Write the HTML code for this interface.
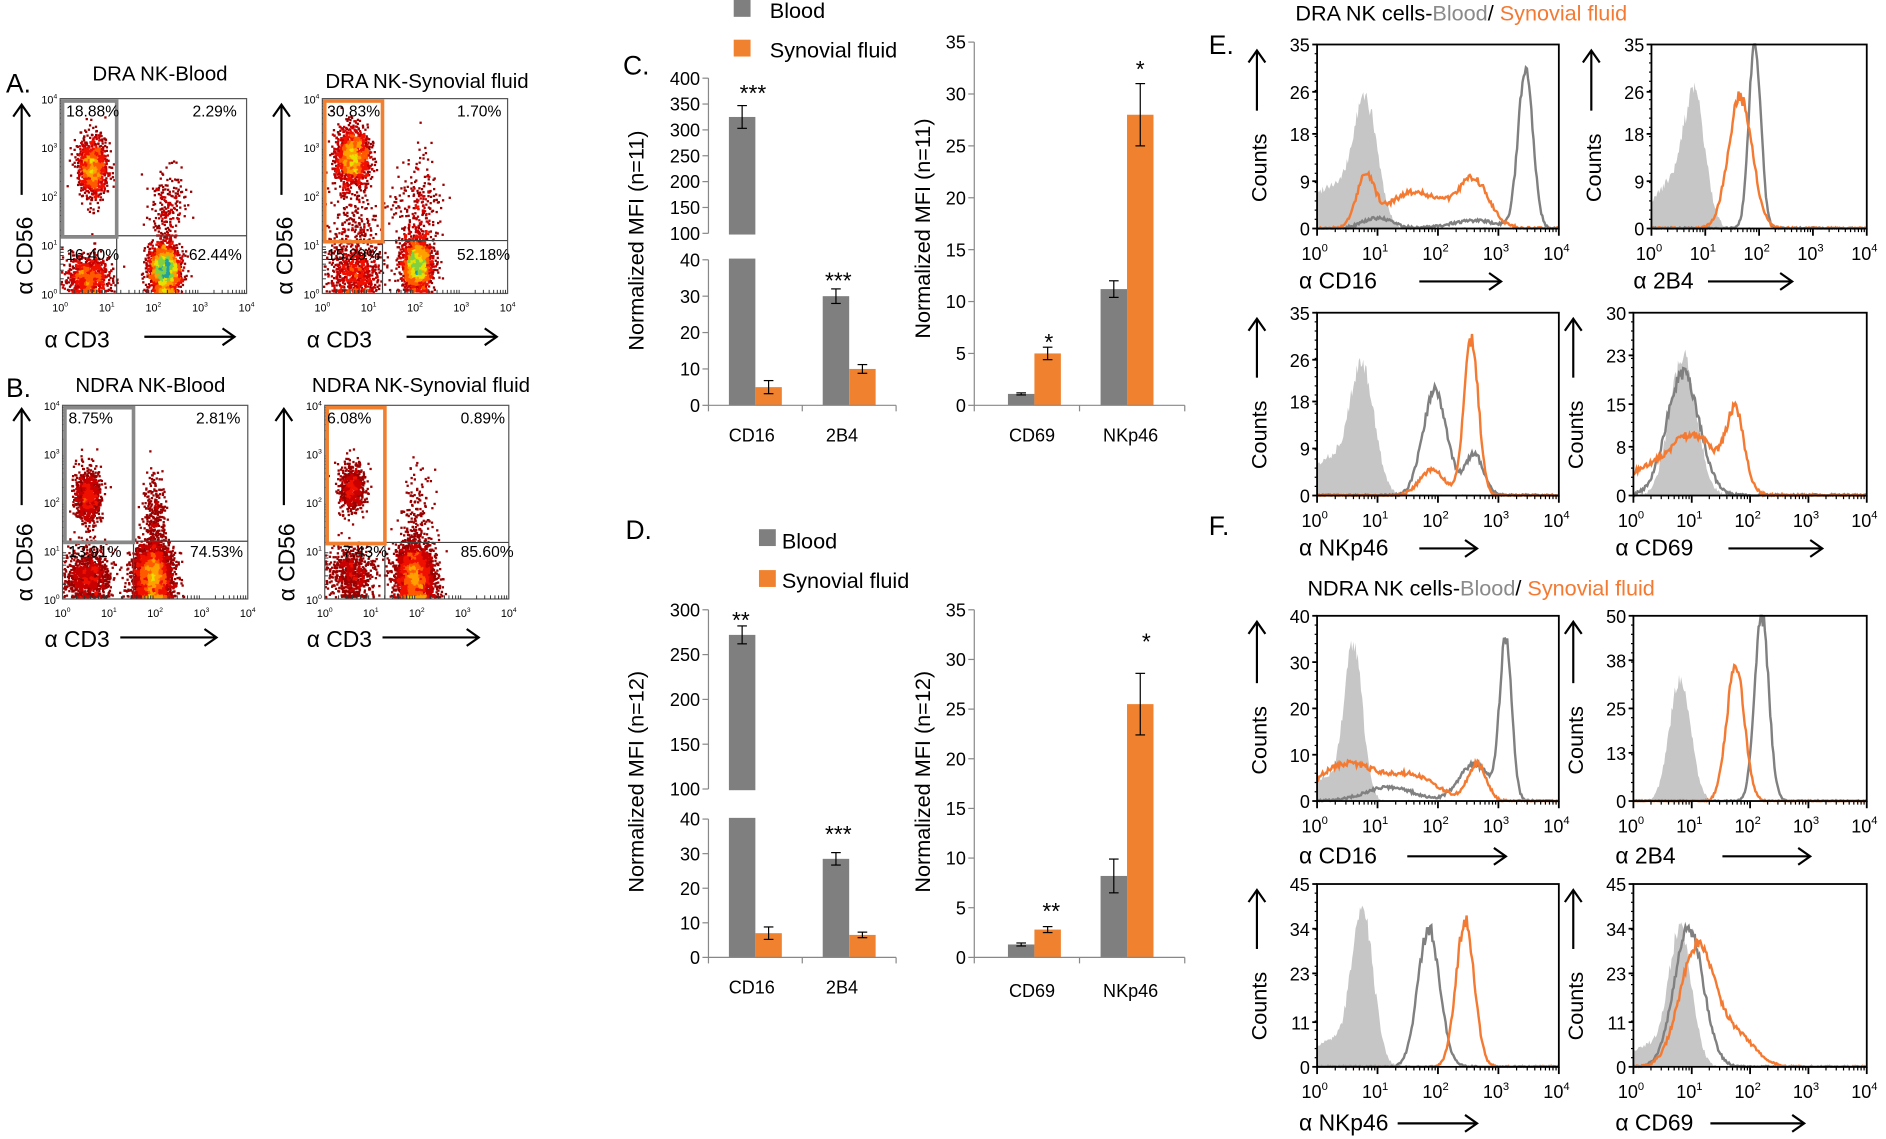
<!DOCTYPE html>
<html><head><meta charset="utf-8"><style>
html,body{margin:0;padding:0;background:#fff;}
svg{display:block;}
text{font-family:"Liberation Sans",Arial,sans-serif;}
</style></head><body>
<svg id="s" xmlns="http://www.w3.org/2000/svg" width="1886" height="1139" viewBox="0 0 1568 947" preserveAspectRatio="none"></svg>
<script>
var S=document.getElementById('s'),NS='http://www.w3.org/2000/svg';
function el(t,a,p){var e=document.createElementNS(NS,t);for(var k in a)e.setAttribute(k,a[k]);(p||S).appendChild(e);return e;}
function T(x,y,s,sz,o){o=o||{};var a={x:x,y:y,'font-size':sz,fill:o.fill||'#000','text-anchor':o.anc||'start'};if(o.rot)a.transform='rotate(-90 '+x+' '+y+')';if(o.w)a['font-weight']=o.w;var e=el('text',a);e.textContent=s;return e;}
function P(x,y,ex,sz,anc){var e=el('text',{x:x,y:y,'font-size':sz,'text-anchor':anc||'middle'});var t1=el('tspan',{},e);t1.textContent='10';var t2=el('tspan',{dy:-sz*0.45,'font-size':sz*0.62},e);t2.textContent=ex;return e;}
function L(a,b,c,d,col,w){return el('line',{x1:a,y1:b,x2:c,y2:d,stroke:col||'#000','stroke-width':w||1});}
function R(x,y,w,h,f,s,sw){return el('rect',{x:x,y:y,width:w,height:h,fill:f||'none',stroke:s||'none','stroke-width':sw||0});}
function AR(x1,x2,y){L(x1,y,x2,y,'#000',1.8);el('path',{d:'M'+(x2-10)+' '+(y-7)+'L'+x2+' '+y+'L'+(x2-10)+' '+(y+7),fill:'none',stroke:'#000','stroke-width':1.8});}
function AU(x,y1,y2){L(x,y1,x,y2,'#000',1.8);el('path',{d:'M'+(x-7)+' '+(y2+10)+'L'+x+' '+y2+'L'+(x+7)+' '+(y2+10),fill:'none',stroke:'#000','stroke-width':1.8});}
var seed=12345;function rnd(){seed|=0;seed=seed+0x6D2B79F5|0;var t=Math.imul(seed^seed>>>15,1|seed);t=t+Math.imul(t^t>>>7,61|t)^t;return((t^t>>>14)>>>0)/4294967296;}
function gn(){var u=rnd()||1e-9,v=rnd();return Math.sqrt(-2*Math.log(u))*Math.cos(2*Math.PI*v);}

function scatter(bx,by,bw,bh,cl,fac){
  var pts=[];cl.forEach(function(c){for(var i=0;i<c[5];i++){var x=c[0]+gn()*c[2],y=c[1]+gn()*c[3];if(y<0.03)y=0.03+rnd()*0.05;if(x<0.02)x=0.02+rnd()*0.05;if(x>3.98||y>3.98)continue;pts.push([bx+x/4*bw,by+bh-y/4*bh]);}});
  var g={},cs=3;pts.forEach(function(p){var k=Math.floor(p[0]/cs)+','+Math.floor(p[1]/cs);g[k]=(g[k]||0)+1;});
  var cols=['#9a0000','#c80000','#f01000','#ff5a00','#ffa000','#e8e000','#80d040','#20a0a0'];
  var th=[1,2,4,7,11,16,22,30].map(function(v){return v*fac;});
  pts.forEach(function(p){var n=g[Math.floor(p[0]/cs)+','+Math.floor(p[1]/cs)];var ci=0;for(var i=0;i<th.length;i++)if(n>=th[i])ci=i;R(p[0]-0.9,p[1]-0.9,1.9,1.9,cols[ci]);});
}
function sframe(bx,by,bw,bh){
  R(bx,by,bw,bh,'none','#555',1);
  for(var d=0;d<=4;d++){var x=bx+d*bw/4,y=by+bh-d*bh/4;
    P(x,by+bh+15,d,9);P(bx-9,y+4,d,9);
    if(d<4)for(var m=2;m<10;m++){var o=Math.log10(m)/4;L(bx+(d/4+o)*bw,by+bh,bx+(d/4+o)*bw,by+bh-3,'#333',0.8);L(bx,by+bh-(d/4+o)*bh,bx+3,by+bh-(d/4+o)*bh,'#333',0.8);}
  }
}
function scat(bx,by,bw,bh,cl,fac,gx,gy,gcol,pl){
  scatter(bx,by,bw,bh,cl,fac);sframe(bx,by,bw,bh);
  L(bx,gy,bx+bw,gy,'#444',1);L(gx,gy,gx,by+bh,'#444',1);
  R(bx+2,by+2,gx-bx-2,gy-by-1,'none',gcol,3);
  pl.forEach(function(q){T(q[0],q[1],q[2],13);});
}
T(5,77,'A.',22);T(5,330,'B.',22);
T(133,67,'DRA NK-Blood',17,{anc:'middle'});T(355,73,'DRA NK-Synovial fluid',17,{anc:'middle'});
T(125,326,'NDRA NK-Blood',17,{anc:'middle'});T(350,326,'NDRA NK-Synovial fluid',17,{anc:'middle'});
seed=7;
scat(50,82,155,162,[[0.7,2.6,0.15,0.3,0,1100],[0.6,0.35,0.22,0.22,0,800],[2.25,0.5,0.16,0.25,0,2200],[2.3,1.8,0.2,0.45,0,200]],1.4,97,196,'#888',[[55,97,'18.88%'],[160,97,'2.29%'],[55,216,'16.40%'],[157,216,'62.44%']]);
scat(268,82,154,162,[[0.65,2.8,0.18,0.3,0,1400],[0.7,1.2,0.3,0.55,0,300],[0.7,0.4,0.28,0.28,0,600],[2.05,0.6,0.16,0.27,0,1800],[2.1,1.7,0.25,0.55,0,250]],1.4,318,200,'#f08030',[[272,97,'30.83%'],[380,97,'1.70%'],[272,216,'15.29%'],[380,216,'52.18%']]);
scat(52,337,154,161,[[0.55,2.1,0.14,0.28,0,900],[0.55,0.45,0.23,0.28,0,1000],[1.95,0.45,0.2,0.33,0,3500],[2.0,1.7,0.12,0.45,0,300]],3.5,111,450,'#888',[[57,352,'8.75%'],[163,352,'2.81%'],[57,463,'13.91%'],[158,463,'74.53%']]);
scat(270,337,153,161,[[0.6,2.3,0.14,0.26,0,600],[0.6,0.5,0.24,0.28,0,700],[1.95,0.45,0.2,0.33,0,3200],[2.0,1.6,0.2,0.5,0,180]],3.5,320,451,'#f08030',[[272,352,'6.08%'],[383,352,'0.89%'],[285,463,'7.43%'],[383,463,'85.60%']]);
[[18,200,82],[234,200,82]].forEach(function(a){T(a[0]+9,245,'α CD56',19,{rot:1});AU(a[0],162,a[2]+5);});
T(27,500,'α CD56',19,{rot:1});AU(18,420,340);T(245,500,'α CD56',19,{rot:1});AU(236,420,340);
T(37,289,'α CD3',19);AR(120,195,280);T(255,289,'α CD3',19);AR(338,413,280);
T(37,538,'α CD3',19);AR(100,180,530);T(255,538,'α CD3',19);AR(318,398,530);

var GR='#7f7f7f',OR='#f0812e';
function bars(ax,x2,y0,ytop,ticks,map,bs,cats,stars,brk,ylab){
  bs.forEach(function(b){var yt=map(b[2]);R(b[0],yt,b[1],y0-yt,b[3]);
    var e1=map(b[2]+b[4]),e2=map(b[2]-b[4]);L(b[0]+b[1]/2,e1,b[0]+b[1]/2,e2,'#000',1);L(b[0]+b[1]/2-4,e1,b[0]+b[1]/2+4,e1,'#000',1);L(b[0]+b[1]/2-4,e2,b[0]+b[1]/2+4,e2,'#000',1);});
  if(brk){R(ax-6,brk[0]+1,x2-ax+8,brk[1]-brk[0]-2,'#fff');L(ax,ytop,ax,brk[0],'#888',1);L(ax,brk[1],ax,y0,'#888',1);}
  else L(ax,ytop,ax,y0,'#888',1);
  L(ax,y0,x2,y0,'#888',1);
  ticks.forEach(function(t){var y=map(t);L(ax-5,y,ax,y,'#888',1);T(ax-7,y+5.5,String(t),15,{anc:'end'});});
  var mid=(ax+x2)/2;[ax,mid,x2].forEach(function(x){L(x,y0,x,y0+5,'#888',1);});
  cats.forEach(function(c){T(c[0],c[1],c[2],15,{anc:'middle'});});
  stars.forEach(function(s){T(s[0],s[1],s[2],19,{anc:'middle'});});
  T(ylab[0],ylab[1],ylab[2],18,{rot:1,anc:'middle'});
}
function brkMap(y0,yb1,yb2,ytop,lo,hiLo,hi){return function(v){if(v<=lo)return y0-v*(y0-yb2)/lo;return yb1-(v-hiLo)*(yb1-ytop)/(hi-hiLo);};}
T(518,62,'C.',22);
R(610,0,14,14,GR);T(640,15,'Blood',18);R(610,33,14,14,OR);T(640,48,'Synovial fluid',18);
var mC=brkMap(337,194,216,65,40,100,400);
bars(589,745,337,65,[0,10,20,30,40,100,150,200,250,300,350,400],mC,
 [[606,22,325,GR,22],[628,22,5,OR,1.8],[684,22,30,GR,2],[706,22,10,OR,1.2]],
 [[625,367,'CD16'],[700,367,'2B4']],[[626,84,'***'],[697,240,'***']],[194,216],[535,200,'Normalized MFI (n=11)']);
var mC2=function(v){return 337-v*(302/35);};
bars(810,985,337,35,[0,5,10,15,20,25,30,35],mC2,
 [[838,22,1.1,GR,0.1],[860,22,5,OR,0.6],[915,22,11.2,GR,0.8],[937,22,28,OR,3]],
 [[858,367,'CD69'],[940,367,'NKp46']],[[872,291,'*'],[948,64,'*']],null,[773,190,'Normalized MFI (n=11)']);
T(520,448,'D.',22);
R(631,440,14,14,GR);T(650,456,'Blood',18);R(631,474,14,14,OR);T(650,489,'Synovial fluid',18);
var mD=brkMap(796,656,681,507,40,100,300);
bars(589,745,796,507,[0,10,20,30,40,100,150,200,250,300],mD,
 [[606,22,272,GR,10],[628,22,7,OR,1.8],[684,22,28.5,GR,1.8],[706,22,6.5,OR,0.8]],
 [[625,826,'CD16'],[700,826,'2B4']],[[616,522,'**'],[697,700,'***']],[656,681],[535,650,'Normalized MFI (n=12)']);
var mD2=function(v){return 796-v*(289/35);};
bars(810,985,796,507,[0,5,10,15,20,25,30,35],mD2,
 [[838,22,1.3,GR,0.15],[860,22,2.8,OR,0.3],[915,22,8.2,GR,1.7],[937,22,25.5,OR,3.1]],
 [[858,829,'CD69'],[940,829,'NKp46']],[[874,764,'**'],[953,540,'*']],null,[773,650,'Normalized MFI (n=12)']);

function hv(c,x){var s=0;c.forEach(function(g){s+=g[0]*Math.exp(-0.5*Math.pow((x-g[1])/g[2],2));});return s;}
function hpath(bx,by,bw,bh,ym,c,fill,noise){
  var pts=[],N=220;for(var i=0;i<=N;i++){var x=i/N*4;var v=hv(c,x);v+= (rnd()-0.5)*noise*(0.3+v/ym*ym*0.06);if(v<0)v=0;if(v>ym)v=ym;pts.push([bx+x/4*bw,by+bh-v/ym*bh]);}
  var d='M'+pts.map(function(p){return p[0].toFixed(1)+' '+p[1].toFixed(1);}).join('L');
  if(fill)el('path',{d:d+'L'+(bx+bw)+' '+(by+bh)+'L'+bx+' '+(by+bh)+'Z',fill:'#c6c6c6'});
  else el('path',{d:d,fill:'none',stroke:c.col,'stroke-width':2});
}
function hist(bx,by,bw,bh,ym,tk,F,G,O,xl,xly,arr){
  hpath(bx,by,bw,bh,ym,F,true,2);
  G.col='#808080';hpath(bx,by,bw,bh,ym,G,false,1.5);
  O.col='#f47a32';hpath(bx,by,bw,bh,ym,O,false,1.5);
  R(bx,by,bw,bh,'none','#000',1.5);
  tk.forEach(function(t){var y=by+bh-t/ym*bh;L(bx-4,y,bx,y,'#000',1.5);T(bx-6,y+6,String(t),15,{anc:'end'});});
  for(var i=1;i<20;i++){var y=by+bh*i/20;L(bx-2,y,bx,y,'#000',1);}
  for(var d=0;d<=4;d++){var x=bx+d*bw/4;L(x,by+bh,x,by+bh+6,'#000',1.5);P(x-2,by+bh+26,d,15);
    if(d<4)for(var m=2;m<10;m++){var xx=bx+(d+Math.log10(m))/4*bw;L(xx,by+bh,xx,by+bh+3,'#000',1);}}
  T(bx-15,xly,xl,19);AR(arr[0],arr[1],xly-6);
  T(bx-42,by+bh-22,'Counts',18,{rot:1});AU(bx-50,by+bh-98,by+5);
}
T(1005,45,'E.',22);T(1005,445,'F.',22);
function head(x,y,a){var e=el('text',{x:x,y:y,'font-size':18});var t=el('tspan',{},e);t.textContent=a+' NK cells-';t=el('tspan',{fill:'#8a8a8a'},e);t.textContent='Blood';t=el('tspan',{},e);t.textContent='/ ';t=el('tspan',{fill:'#f47a32'},e);t.textContent='Synovial fluid';}
head(1077,17,'DRA');head(1087,495,'NDRA');
seed=99;
hist(1095,37,201,153,35,[0,9,18,26,35],[[24,0.8,0.2],[8,0.2,0.3]],[[31,3.45,0.12],[2,1.0,0.25],[1.5,2.6,0.4]],[[9,0.8,0.15],[5,1.5,0.4],[8,2.6,0.25],[3,2.0,0.5]],'α CD16',240,[1180,1248]);
hist(1373,37,179,153,35,[0,9,18,26,35],[[24,0.8,0.2],[8,0.3,0.3]],[[36,1.92,0.11]],[[25,1.65,0.22]],'α 2B4',240,[1420,1490]);
hist(1095,260,201,152,35,[0,9,18,26,35],[[24,0.75,0.2],[7,0.2,0.3]],[[20,1.95,0.2],[8,2.6,0.15]],[[30,2.55,0.12],[5,1.9,0.2]],'α NKp46',462,[1180,1228]);
hist(1358,260,194,152,30,[0,8,15,23,30],[[23,0.85,0.23]],[[20,0.85,0.28]],[[10,1.0,0.45],[12,1.75,0.15],[3,0.1,0.3]],'α CD69',462,[1437,1515]);
hist(1095,512,201,154,40,[0,10,20,30,40],[[33,0.6,0.15],[5,0.1,0.3]],[[34,3.12,0.1],[8,2.6,0.25],[3,1.2,0.4]],[[8,0.5,0.5],[5,1.6,0.4],[8,2.65,0.15]],'α CD16',718,[1170,1252]);
hist(1358,512,194,154,50,[0,13,25,38,50],[[33,0.8,0.18]],[[50,2.2,0.12]],[[37,1.75,0.15]],'α 2B4',718,[1432,1505]);
hist(1095,735,201,152,45,[0,11,23,34,45],[[38,0.75,0.18],[6,0.2,0.3]],[[34,1.85,0.18]],[[36,2.45,0.15]],'α NKp46',940,[1162,1228]);
hist(1358,735,194,152,45,[0,11,23,34,45],[[33,0.8,0.2],[5,0.2,0.3]],[[34,0.95,0.25]],[[30,1.1,0.3],[7,1.8,0.3]],'α CD69',940,[1422,1500]);
</script>
</body></html>
